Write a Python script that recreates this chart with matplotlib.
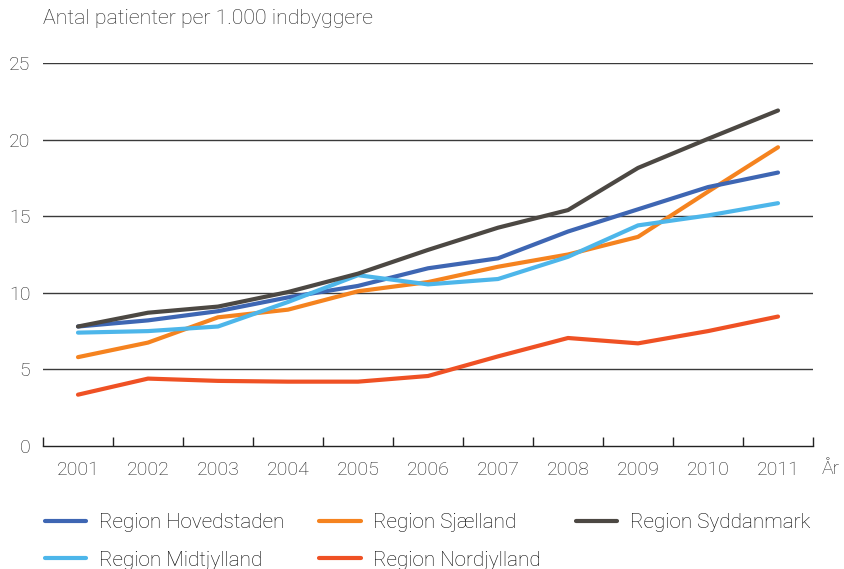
import matplotlib
matplotlib.use('Agg')
import matplotlib.pyplot as plt
import numpy as np

plt.rcParams['font.family'] = ['Roboto', 'DejaVu Sans']
plt.rcParams['font.weight'] = 'light'

years = [2001, 2002, 2003, 2004, 2005, 2006, 2007, 2008, 2009, 2010, 2011]

hovedstaden = [7.8, 8.2, 8.8, 9.7, 10.45, 11.6, 12.25, 14.0, 15.45, 16.9, 17.85]
sjaelland = [5.8, 6.75, 8.4, 8.9, 10.1, 10.7, 11.7, 12.5, 13.65, 16.6, 19.5]
syddanmark = [7.8, 8.7, 9.1, 10.05, 11.25, 12.8, 14.25, 15.4, 18.15, 20.05, 21.9]
midtjylland = [7.4, 7.5, 7.8, 9.4, 11.15, 10.55, 10.9, 12.35, 14.4, 15.05, 15.85]
nordjylland = [3.35, 4.4, 4.25, 4.2, 4.2, 4.57, 5.85, 7.05, 6.7, 7.5, 8.45]

yticks = [0, 5, 10, 15, 20, 25]

fig = plt.figure(figsize=(8.45, 5.69), dpi=100)
ax = fig.add_axes([43/845, 1-446/569, (813-43)/845, (446-63)/569])

lw = 3
ax.plot(years, hovedstaden, c='#3e66b3', lw=lw, label='Region Hovedstaden', solid_capstyle='round', zorder=3)
ax.plot(years, midtjylland, c='#4db6ea', lw=lw, label='Region Midtjylland', solid_capstyle='round', zorder=4)
ax.plot(years, sjaelland, c='#f5831f', lw=lw, label='Region Sjælland', solid_capstyle='round', zorder=2)
ax.plot(years, nordjylland, c='#ef5124', lw=lw, label='Region Nordjylland', solid_capstyle='round', zorder=2)
ax.plot(years, syddanmark, c='#4c4843', lw=lw, label='Region Syddanmark', solid_capstyle='round', zorder=5)

ax.set_xlim(2000.5, 2011.5)
ax.set_ylim(0, 25)
for y in yticks[1:]:
    ax.axhline(y, color='#3a3a3a', lw=1, zorder=1)

for s in ['top', 'right', 'left']:
    ax.spines[s].set_visible(False)
ax.spines['bottom'].set_color('#222222')
ax.spines['bottom'].set_linewidth(1)

ax.set_yticks(yticks)
ax.set_yticklabels([str(v) for v in yticks], fontsize=14)
ax.tick_params(axis='y', length=0, pad=9, colors='#222222')

ax.set_xticks(np.arange(2000.5, 2012, 1))
ax.set_xticklabels([])
ax.set_xticks(years, minor=True)
ax.set_xticklabels([str(y) for y in years], minor=True, fontsize=14)
ax.tick_params(axis='x', which='major', length=6.5, direction='in', color='#222222', width=1)
ax.tick_params(axis='x', which='minor', length=0, pad=11, colors='#222222')

fig.text(43/845, 1-18/569, 'Antal patienter per 1.000 indbyggere', fontsize=15.3,
         va='center', ha='left', color='#222222')
fig.text(822/845, 1-469/569, 'År', fontsize=14, va='center', ha='left', color='#222222')

fig.legend(loc='upper left', bbox_to_anchor=(45/845, 1-513/569), ncol=3, frameon=False,
           fontsize=14.9, handlelength=2.0, handletextpad=0.6, columnspacing=1.7,
           labelspacing=0.9, borderpad=0, borderaxespad=0)

fig.savefig('out.png', dpi=100)
